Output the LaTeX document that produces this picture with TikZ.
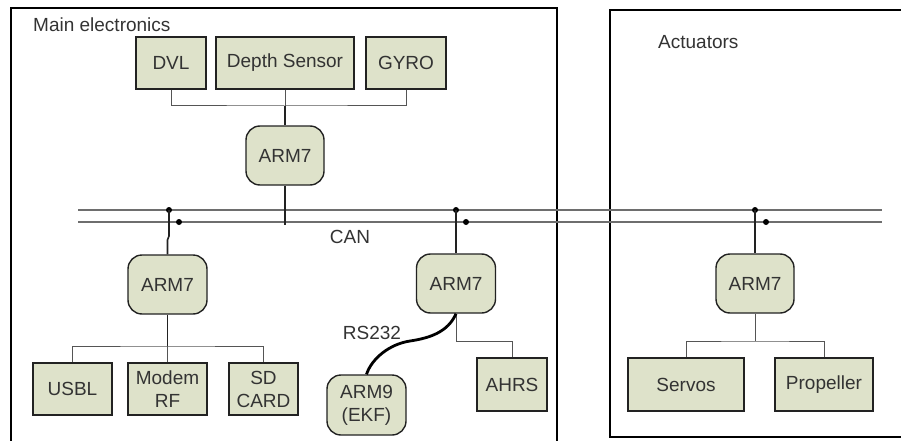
\documentclass[tikz,border=0pt]{standalone}
\usepackage{fontspec}
\setmainfont{Liberation Sans}
\definecolor{boxfill}{HTML}{DEE2CA}
\definecolor{txt}{HTML}{333333}
\definecolor{edge}{HTML}{222222}
\definecolor{treec}{HTML}{555555}
\definecolor{busc}{HTML}{6E6E6E}
\begin{document}
\begin{tikzpicture}[x=1pt,y=-1pt,
  every node/.style={font=\fontsize{19}{23}\selectfont, text=txt, align=center, inner sep=0pt},
  blk/.style={draw=edge, fill=boxfill, line width=1.4pt},
  rbox/.style={blk, rounded corners=14pt},
  link/.style={draw=edge, line width=1.6pt},
  tree/.style={draw=treec, line width=1pt},
  bus/.style={draw=busc, line width=1.7pt},
  frame/.style={draw=black, line width=1.9pt},
  dot/.style={fill=black}]
\useasboundingbox (0,0) rectangle (901,441);
% frames
\draw[frame] (11,441) -- (11,8) -- (557,8) -- (557,441);
\draw[frame] (901,10) -- (610,10) -- (610,437) -- (901,437);
\node[anchor=west] (lmain) at (33,25) {Main electronics};
\node[anchor=west] (lact) at (658,42) {Actuators};
% bus
\coordinate (b1l) at (78,210); \coordinate (b1r) at (882,210);
\coordinate (b2l) at (78,222); \coordinate (b2r) at (882,222);
\draw[bus] (b1l) -- (b1r);
\draw[bus] (b2l) -- (b2r);
\node (can) at (350,237) {CAN};
% top group
\node[blk, minimum width=70pt, minimum height=52pt] (dvl) at (171,63) {DVL};
\node[blk, minimum width=138pt, minimum height=52pt] (depth) at (285,63) {Depth Sensor};
\node[blk, minimum width=80pt, minimum height=52pt] (gyro) at (406,63) {GYRO};
\node[rbox, minimum width=78pt, minimum height=59pt] (armtop) at (285,155.5) {ARM7};
\coordinate (jtop) at (285,106);
\draw[tree] (dvl.south) |- (jtop) -| (gyro.south);
\draw[tree] (depth.south) -- (jtop);
\draw[link] (jtop) -- (armtop.north);
\coordinate (ttop) at (285,225);
\draw[link] (armtop.south) -- (ttop);
% left group
\coordinate (dl1) at (169,210); \coordinate (dl2) at (179,222);
\fill[dot] (dl1) circle (3pt); \fill[dot] (dl2) circle (3pt);
\node[rbox, minimum width=79pt, minimum height=59pt] (armleft) at (167.5,284.5) {ARM7};
\coordinate (kl1) at (169,236); \coordinate (kl2) at (167.5,240);
\draw[link] (dl1) -- (kl1) -- (kl2) -- (armleft.north);
\node[blk, minimum width=79pt, minimum height=52pt] (usbl) at (72.5,389) {USBL};
\node[blk, minimum width=79pt, minimum height=52pt] (modem) at (167.5,389) {Modem\\RF};
\node[blk, minimum width=69pt, minimum height=52pt] (sd) at (263.5,389) {SD\\CARD};
\coordinate (jl) at (167.5,346);
\draw[link] (armleft.south) -- (jl);
\draw[tree] (usbl.north) |- (jl) -| (sd.north);
\draw[tree] (modem.north) -- (jl);
% middle group
\coordinate (dm1) at (456,210); \coordinate (dm2) at (466,222);
\fill[dot] (dm1) circle (3pt); \fill[dot] (dm2) circle (3pt);
\node[rbox, minimum width=79pt, minimum height=59pt] (armmid) at (456,283.5) {ARM7};
\draw[link] (dm1) -- (armmid.north);
\node[blk, minimum width=70pt, minimum height=53pt] (ahrs) at (512,384.5) {AHRS};
\coordinate (jm) at (456,341);
\draw[tree] (armmid.south) -- (jm) -| (ahrs.north);
\node[rbox, minimum width=79pt, minimum height=60pt] (arm9) at (366.5,405) {ARM9\\(EKF)};
\coordinate (rsmid) at (410,341);
\draw[draw=black, line width=2.8pt] (armmid.south) .. controls (448,332) and (430,338) .. (rsmid) .. controls (390,344) and (372,358) .. (arm9.north);
\node (rs) at (372,333) {RS232};
% right group
\coordinate (dr1) at (755,210); \coordinate (dr2) at (766,222);
\fill[dot] (dr1) circle (3pt); \fill[dot] (dr2) circle (3pt);
\node[rbox, minimum width=78pt, minimum height=59pt] (armright) at (755,283.5) {ARM7};
\draw[link] (dr1) -- (armright.north);
\node[blk, minimum width=116pt, minimum height=53pt] (servos) at (686,384.5) {Servos};
\node[blk, minimum width=98pt, minimum height=53pt] (prop) at (824,384.5) {Propeller};
\coordinate (jr) at (755,341);
\draw[tree] (armright.south) -- (jr);
\draw[tree] (servos.north) |- (jr) -| (prop.north);
\end{tikzpicture}
\end{document}
